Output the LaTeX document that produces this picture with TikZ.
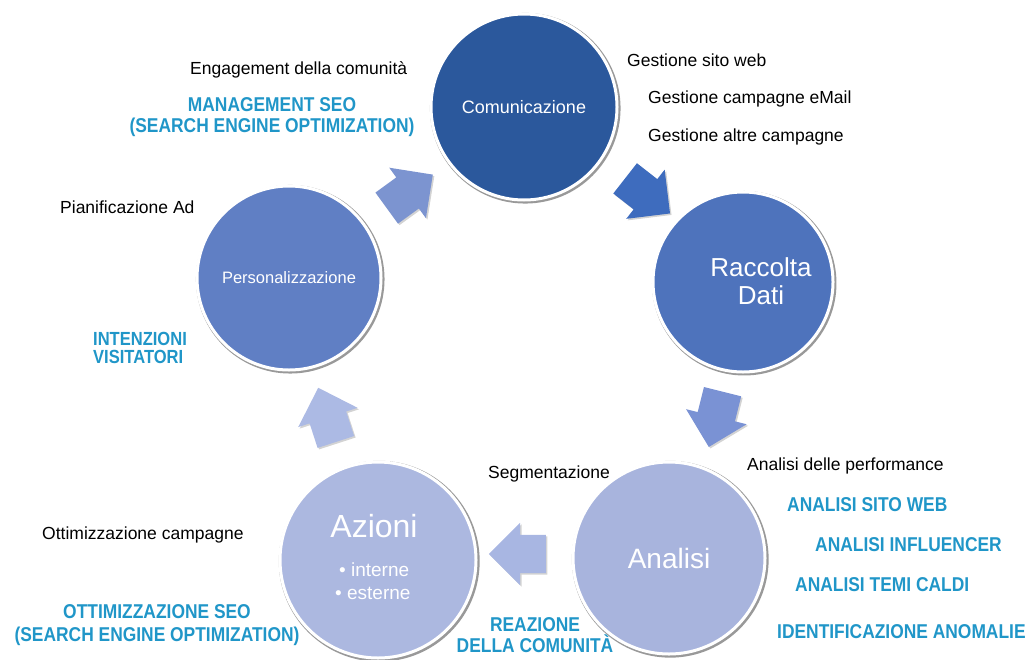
\documentclass[tikz,border=0pt]{standalone}
\usepackage{fontspec}
\setmainfont{Liberation Sans}
\newfontfamily\seofont{Liberation Sans}[FakeStretch=0.87]
\usepackage{xcolor}
\usetikzlibrary{shapes.arrows,shadows}

\definecolor{comblu}{RGB}{43,88,156}
\definecolor{raccblu}{RGB}{78,115,188}
\definecolor{persblu}{RGB}{96,127,196}
\definecolor{analblu}{RGB}{168,180,221}
\definecolor{azioblu}{RGB}{172,184,224}
\definecolor{seoblu}{RGB}{32,150,200}

\tikzset{
  fase/.style={circle, minimum size=#1, draw=white, line width=3pt, text=white,
    drop shadow={shadow xshift=1.2pt, shadow yshift=-1.2pt, shadow scale=1.025, opacity=0.5, fill=black!80}},
  freccia/.style={single arrow, minimum height=57pt, minimum width=62pt,
    single arrow head extend=12pt, inner xsep=0pt, inner ysep=19pt,
    drop shadow={shadow xshift=1.5pt, shadow yshift=-1.5pt, opacity=0.35}},
  voce/.style={anchor=west, inner sep=0pt, font=\fontsize{17.5}{20}\selectfont},
  seo/.style={inner sep=0pt, text=seoblu, align=center},
}

\begin{document}
\begin{tikzpicture}[x=1pt,y=-1pt]
\useasboundingbox (0,0) rectangle (1035,659);

% cerchi
\node[fase=186, fill=comblu, font=\fontsize{18}{20}\selectfont] (comunicazione) at (524,107) {Comunicazione};
\node[fase=180, fill=raccblu] (raccolta) at (743,282) {};
\node[fase=192, fill=analblu, font=\fontsize{28}{32}\selectfont] (analisi) at (669,558) {Analisi};
\node[fase=196, fill=azioblu] (azioni) at (378,560) {};
\node[fase=184, fill=persblu, font=\fontsize{16.5}{20}\selectfont] (personalizzazione) at (289,278) {Personalizzazione};

\node[text=white, align=center, font=\fontsize{26}{28}\selectfont] (raccoltatxt) at (761,281) {Raccolta\\Dati};
\node[text=white, font=\fontsize{32}{36}\selectfont] (azionitxt) at (374,526) {Azioni};
\node[text=white, anchor=west, inner sep=0pt, font=\fontsize{19}{22}\selectfont] (interne) at (339,570) {• interne};
\node[text=white, anchor=west, inner sep=0pt, font=\fontsize{19}{22}\selectfont] (esterne) at (335,593) {• esterne};

% frecce
\node[freccia, fill={rgb,255:red,124;green,148;blue,208}, rotate=36] (f1) at (402,197) {};
\node[freccia, fill={rgb,255:red,62;green,108;blue,190}, rotate=-38] (f2) at (640,190) {};
\node[freccia, fill={rgb,255:red,122;green,146;blue,212}, rotate=-104] (f3) at (718,410) {};
\node[freccia, fill={rgb,255:red,168;green,182;blue,226}, rotate=180] (f4) at (527,554) {};
\node[freccia, fill={rgb,255:red,172;green,186;blue,228}, rotate=108] (f5) at (330,424) {};

% voci
\node[voce] (engagement) at (190,70) {Engagement della comunità};
\node[voce] (sitoweb) at (627,60) {Gestione sito web};
\node[voce] (email) at (648,99) {Gestione campagne eMail};
\node[voce] (altre) at (648,137) {Gestione altre campagne};
\node[voce] (pianificazione) at (60,207) {Pianificazione Ad};
\node[voce] (segmentazione) at (488,474) {Segmentazione};
\node[voce] (performance) at (747,466) {Analisi delle performance};
\node[voce] (ottimizzazione) at (42,535) {Ottimizzazione campagne};

% etichette SEO
\node[seo, font=\seofont\bfseries\fontsize{20}{21}\selectfont] (mgmtseo) at (272,117) {MANAGEMENT SEO\\(SEARCH ENGINE OPTIMIZATION)};
\node[seo, align=left, anchor=west, font=\seofont\bfseries\fontsize{19}{18}\selectfont] (intenzioni) at (93,348) {INTENZIONI\\VISITATORI};
\node[seo, font=\seofont\bfseries\fontsize{20}{23}\selectfont] (ottseo) at (157,625) {OTTIMIZZAZIONE SEO\\(SEARCH ENGINE OPTIMIZATION)};
\node[seo, font=\seofont\bfseries\fontsize{20}{21}\selectfont] (reazione) at (535,635) {REAZIONE\\DELLA COMUNITÀ};
\node[seo, anchor=west, font=\seofont\bfseries\fontsize{20}{22}\selectfont] (sitowebseo) at (787,505) {ANALISI SITO WEB};
\node[seo, anchor=west, font=\seofont\bfseries\fontsize{20}{22}\selectfont] (influencer) at (815,545) {ANALISI INFLUENCER};
\node[seo, anchor=west, font=\seofont\bfseries\fontsize{20}{22}\selectfont] (temicaldi) at (795,585) {ANALISI TEMI CALDI};
\node[seo, anchor=west, font=\seofont\bfseries\fontsize{20}{22}\selectfont] (anomalie) at (777,632) {IDENTIFICAZIONE ANOMALIE};
\end{tikzpicture}
\end{document}
